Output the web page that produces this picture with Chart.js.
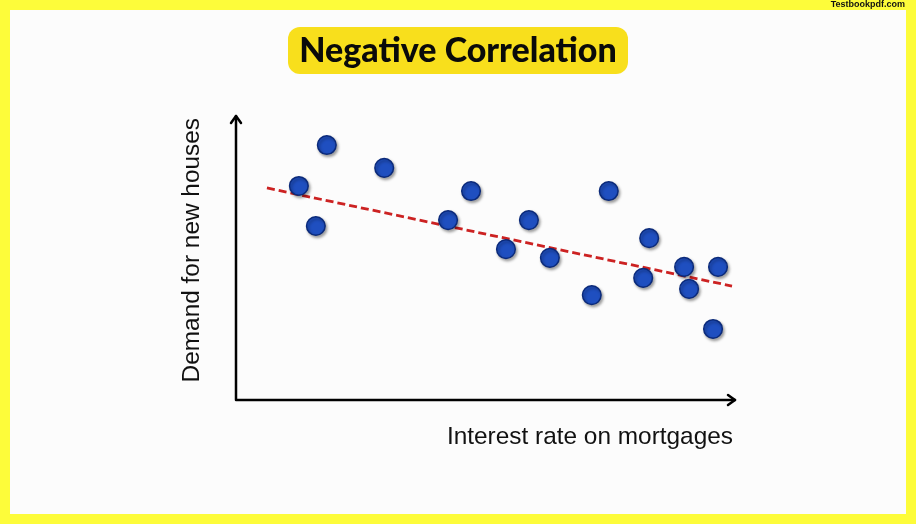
<!DOCTYPE html>
<html>
<head>
<meta charset="utf-8">
<title>Negative Correlation</title>
<script src="https://cdn.jsdelivr.net/npm/chart.js@4"></script>
<style>
  html, body { margin: 0; padding: 0; background: #fdfc3a; }
  #wrap { width: 916px; height: 524px; position: relative; }
</style>
</head>
<body>
<div id="wrap"><canvas id="scatterChart" width="916" height="524"></canvas></div>
<script>
// interest rate (x) and demand (y), in arbitrary units 0..10
const rateValues = [1.26, 1.82, 1.60, 2.97, 4.25, 4.71, 5.41, 5.87, 6.29, 7.13, 7.47, 8.28, 8.16, 8.98, 9.08, 9.66, 9.56];
const demandValues = [7.59, 9.04, 6.17, 8.23, 6.38, 7.41, 5.35, 6.38, 5.04, 3.72, 7.41, 5.74, 4.33, 4.72, 3.94, 4.72, 2.52];
// end points of the dashed trend line
const trendX = [0.62, 9.94];
const trendY = [7.52, 4.04];

const titleText = 'Negative Correlation';
const xTitle = 'Interest rate on mortgages';
const yTitle = 'Demand for new houses';
const watermark = 'Testbookpdf.com';

function roundRect(ctx, x, y, w, h, r) {
    ctx.beginPath();
    ctx.moveTo(x + r, y);
    ctx.arcTo(x + w, y, x + w, y + h, r);
    ctx.arcTo(x + w, y + h, x, y + h, r);
    ctx.arcTo(x, y + h, x, y, r);
    ctx.arcTo(x, y, x + w, y, r);
    ctx.closePath();
}

const decorPlugin = {
    id: 'decor',
    beforeDraw(chart) {
        const ctx = chart.ctx;
        ctx.save();
        // yellow frame and white page
        ctx.fillStyle = '#fdfc3a';
        ctx.fillRect(0, 0, chart.width, chart.height);
        ctx.fillStyle = '#fcfcfc';
        ctx.fillRect(10, 10, chart.width - 20, chart.height - 20);

        // watermark
        ctx.fillStyle = '#111';
        ctx.font = 'bold 9px "Liberation Sans", Arial, sans-serif';
        ctx.textAlign = 'right';
        ctx.textBaseline = 'middle';
        ctx.fillText(watermark, 905, 5);

        // title pill
        ctx.fillStyle = '#f8df1c';
        roundRect(ctx, 288, 27, 340, 47, 12);
        ctx.fill();
        ctx.fillStyle = '#0a0a0a';
        ctx.font = '900 34px Lato, "DejaVu Sans", sans-serif';
        ctx.textAlign = 'center';
        ctx.fillText(titleText, 458, 51);

        // axes with arrow heads
        const a = chart.chartArea;
        ctx.strokeStyle = '#000';
        ctx.lineWidth = 2.5;
        ctx.lineCap = 'round';
        ctx.lineJoin = 'round';
        ctx.beginPath();
        ctx.moveTo(a.left, a.top - 2);
        ctx.lineTo(a.left, a.bottom);
        ctx.lineTo(a.right, a.bottom);
        ctx.stroke();
        ctx.beginPath();
        ctx.moveTo(a.left - 5, a.top + 5);
        ctx.lineTo(a.left, a.top - 2);
        ctx.lineTo(a.left + 5, a.top + 5);
        ctx.moveTo(a.right - 7, a.bottom - 5);
        ctx.lineTo(a.right, a.bottom);
        ctx.lineTo(a.right - 7, a.bottom + 5);
        ctx.stroke();

        // axis titles
        ctx.fillStyle = '#111';
        ctx.font = '24.4px "Liberation Sans", Arial, sans-serif';
        ctx.textAlign = 'right';
        ctx.textBaseline = 'middle';
        ctx.fillText(xTitle, 733, 437);
        ctx.translate(192, 118);
        ctx.rotate(-Math.PI / 2);
        ctx.textAlign = 'right';
        ctx.fillText(yTitle, 0, 0);
        ctx.restore();
    },
    beforeDatasetDraw(chart, args) {
        if (args.index === 1) {
            const ctx = chart.ctx;
            ctx.save();
            ctx.shadowColor = 'rgba(0,0,0,0.35)';
            ctx.shadowOffsetX = 1.5;
            ctx.shadowOffsetY = 2;
            ctx.shadowBlur = 3;
        }
    },
    afterDatasetDraw(chart, args) {
        if (args.index === 1) chart.ctx.restore();
    }
};

const ctx = document.getElementById('scatterChart').getContext('2d');
const chart = new Chart(ctx, {
    type: 'scatter',
    data: {
        datasets: [
            {
                type: 'line',
                label: 'Trend',
                data: trendX.map((x, i) => ({x: x, y: trendY[i]})),
                borderColor: '#cc2222',
                borderWidth: 2.8,
                borderDash: [8, 4],
                pointRadius: 0,
                fill: false,
                order: 2
            },
            {
                label: 'Houses',
                data: rateValues.map((x, i) => ({x: x, y: demandValues[i]})),
                backgroundColor: '#1f4fc0',
                borderColor: '#0b2a7a',
                borderWidth: 1.5,
                pointRadius: 9.3,
                pointHoverRadius: 9.3,
                clip: false,
                order: 1
            }
        ]
    },
    options: {
        responsive: false,
        animation: false,
        layout: {
            padding: {left: 236, top: 118, right: 181, bottom: 124}
        },
        plugins: {
            legend: {display: false},
            tooltip: {enabled: false}
        },
        scales: {
            x: {type: 'linear', min: 0, max: 10, display: false},
            y: {type: 'linear', min: 0, max: 10, display: false}
        }
    },
    plugins: [decorPlugin]
});
</script>
</body>
</html>
